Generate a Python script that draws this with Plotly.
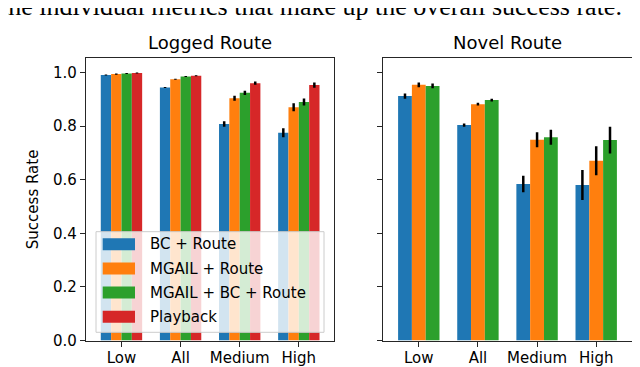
import plotly.graph_objects as go
from plotly.subplots import make_subplots

# data
categories = ["Low", "All", "Medium", "High"]

logged_names = ["BC + Route", "MGAIL + Route", "MGAIL + BC + Route", "Playback"]
logged_values = [
    [0.991, 0.944, 0.808, 0.775],
    [0.994, 0.975, 0.904, 0.870],
    [0.996, 0.985, 0.924, 0.890],
    [0.998, 0.988, 0.960, 0.953],
]
logged_errors = [
    [0.002, 0.002, 0.010, 0.017],
    [0.002, 0.002, 0.009, 0.015],
    [0.002, 0.002, 0.008, 0.013],
    [0.002, 0.002, 0.006, 0.010],
]

novel_names = ["BC + Route", "MGAIL + Route", "MGAIL + BC + Route"]
novel_values = [
    [0.912, 0.804, 0.584, 0.580],
    [0.954, 0.882, 0.749, 0.671],
    [0.950, 0.897, 0.758, 0.748],
]
novel_errors = [
    [0.010, 0.006, 0.031, 0.056],
    [0.009, 0.005, 0.028, 0.054],
    [0.009, 0.005, 0.028, 0.050],
]

colors = ["#1f77b4", "#ff7f0e", "#2ca02c", "#d62728"]

W, H = 640, 367
OFF = 8  # page body margin, positions below are in window pixels
FONT = "DejaVu Sans"
AXC = "#262626"


def px_x(x):
    return (x - OFF) / W


def px_y(y):
    return 1 - (y - OFF) / H


fig = make_subplots(rows=1, cols=2, horizontal_spacing=0.05)

for i, name in enumerate(logged_names):
    fig.add_trace(go.Bar(
        x=categories, y=logged_values[i], name=name,
        marker=dict(color=colors[i], line=dict(width=0)),
        error_y=dict(type="data", array=logged_errors[i], color="black",
                     thickness=2.5, width=0),
        showlegend=False), row=1, col=1)

for i, name in enumerate(novel_names):
    fig.add_trace(go.Bar(
        x=categories, y=novel_values[i], name=name,
        marker=dict(color=colors[i], line=dict(width=0)),
        error_y=dict(type="data", array=novel_errors[i], color="black",
                     thickness=2.5, width=0),
        showlegend=False), row=1, col=2)

axis_style = dict(showline=True, mirror=True, linecolor=AXC, linewidth=1.3,
                  ticks="outside", ticklen=5, tickwidth=1.3, tickcolor=AXC,
                  showgrid=False, zeroline=False, automargin=False,
                  tickfont=dict(family=FONT, size=15, color="black"))

fig.update_xaxes(axis_style, range=[-0.6, 3.6], ticklabelstandoff=-2)
fig.update_yaxes(axis_style, range=[0, 1.053], tickvals=[0, 0.2, 0.4, 0.6, 0.8, 1.0],
                 tickformat=".1f")
fig.update_yaxes(showticklabels=False, row=1, col=2)

fig.update_layout(
    width=W, height=H,
    margin=dict(l=0, r=0, t=0, b=0, autoexpand=False),
    plot_bgcolor="white", paper_bgcolor="white",
    barmode="group", bargap=0.3, bargroupgap=0,
    showlegend=False,
    xaxis=dict(domain=[px_x(86), px_x(334.3)]),
    xaxis2=dict(domain=[px_x(383.3), px_x(631.7)]),
    yaxis=dict(domain=[px_y(340.5), px_y(58.3)],
               title=dict(text="Success Rate", font=dict(family=FONT, size=15, color="black"),
                          standoff=10)),
    yaxis2=dict(domain=[px_y(340.5), px_y(58.3)]),
)

# subplot titles
for txt, xc in [("Logged Route", 210), ("Novel Route", 507.5)]:
    fig.add_annotation(text=txt, x=px_x(xc), y=px_y(43), xref="paper", yref="paper",
                       xanchor="center", yanchor="middle", showarrow=False,
                       font=dict(family=FONT, size=18, color="black"))

# clipped line of paper text above the chart
fig.add_annotation(text="the individual metrics that make up the overall success rate.",
                   x=px_x(-1), y=px_y(23), xref="paper", yref="paper",
                   xanchor="left", yanchor="bottom", showarrow=False,
                   font=dict(family="Liberation Serif", size=26, color="black"))

# legend drawn by hand, matplotlib style
fig.add_shape(type="rect", xref="paper", yref="paper",
              x0=px_x(96), x1=px_x(324), y0=px_y(332.3), y1=px_y(231.7),
              fillcolor="rgba(255,255,255,0.8)", line=dict(color="#cccccc", width=1),
              layer="above")
rows = [244.3, 268.5, 292.6, 316.7]
for i, name in enumerate(logged_names):
    yc = rows[i]
    fig.add_shape(type="rect", xref="paper", yref="paper",
                  x0=px_x(102.7), x1=px_x(135), y0=px_y(yc + 6), y1=px_y(yc - 6),
                  fillcolor=colors[i], line=dict(width=0), layer="above")
    fig.add_annotation(text=name, x=px_x(148), y=px_y(yc), xref="paper", yref="paper",
                       xanchor="left", yanchor="middle", showarrow=False,
                       font=dict(family=FONT, size=15, color="black"))

fig.write_html("out.html")
